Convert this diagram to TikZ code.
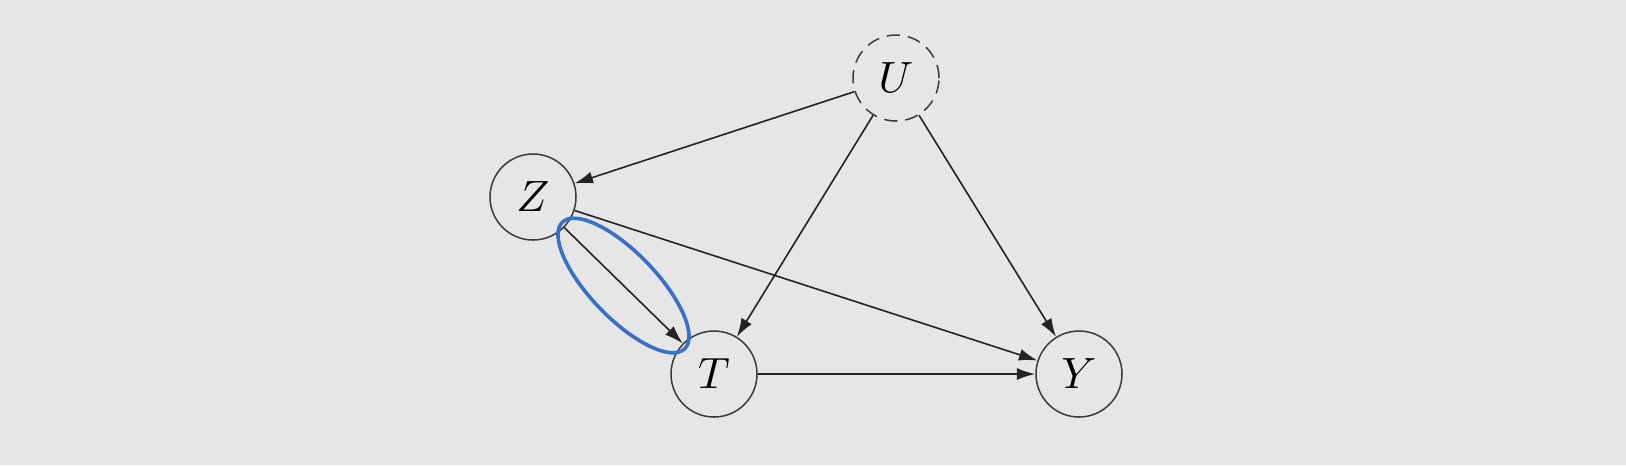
\documentclass[tikz,border=0pt]{standalone}
\usetikzlibrary{arrows.meta,calc}
\definecolor{bgc}{RGB}{230,230,230}
\definecolor{edgec}{RGB}{35,35,35}
\definecolor{circc}{RGB}{60,60,60}
\definecolor{hlblue}{RGB}{55,112,198}
\begin{document}
\begin{tikzpicture}[x=0.25pt,y=-0.25pt,
  var/.style={circle,draw=circc,line width=0.38pt,minimum size=21.5pt,inner sep=0pt,
    font=\fontsize{10.95}{13}\selectfont},
  latent/.style={var,dashed,dash pattern=on 3.3pt off 2pt},
  edge/.style={draw=edgec,line width=0.4pt,-{Latex[length=4.6pt,width=3pt]}}]
\path[fill=bgc] (0,0) rectangle (1626,465);
\useasboundingbox (0,0) rectangle (1626,465);
\node[latent] (U) at (896,78) {$U$};
\node[var] (Z) at (533,197) {$Z$};
\node[var] (T) at (714,374) {$T$};
\node[var] (Y) at (1079,374) {$Y$};
\draw[edge] (U) -- (Z);
\draw[edge] (U) -- (T);
\draw[edge] (U) -- (Y);
\draw[edge] (Z) -- (T);
\draw[edge] (Z) -- (Y);
\draw[edge] (T) -- (Y);
\coordinate (M) at ($(Z)!0.5!(T)$);
\draw[hlblue,line width=0.9pt,shift={(M)},rotate=-46] (0,0) ellipse [x radius=22pt,y radius=8.2pt];
\end{tikzpicture}
\end{document}
